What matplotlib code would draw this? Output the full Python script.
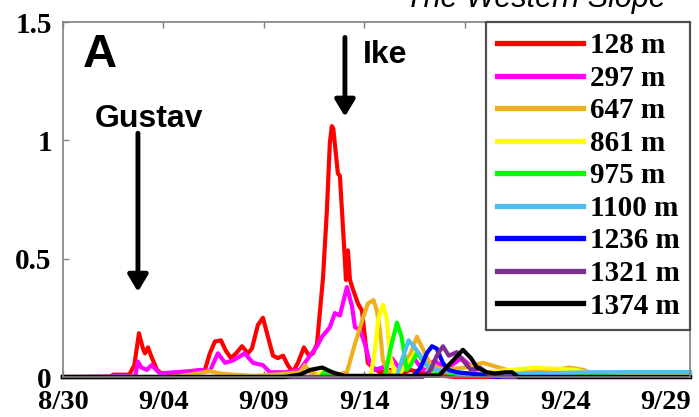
import matplotlib
matplotlib.use("Agg")
import matplotlib.pyplot as plt

# days since 8/30 and concentrations for each depth
red_t = [0, 2.3, 2.5, 3.3, 3.55, 3.78, 3.98, 4.08, 4.23, 4.43, 4.68, 4.98, 5.6, 6.1, 6.4, 6.7,
         7.06, 7.31, 7.56, 7.86, 8.11, 8.36, 8.61, 8.91, 9.2, 9.4, 9.7, 9.95, 10.2, 10.45, 10.7,
         10.95, 11.19, 11.44, 11.69, 11.99, 12.24, 12.44, 12.64, 12.94, 13.13, 13.28, 13.38,
         13.45, 13.68, 13.78, 14.03, 14.08, 14.18, 14.28, 14.43, 14.68, 14.88, 15.02, 15.17,
         15.42, 15.77, 16.27, 16.77, 17.26, 17.76, 18.26, 19.5, 31.2]
red_v = [0, 0, 0.01, 0.01, 0.05, 0.185, 0.12, 0.10, 0.125, 0.08, 0.03, 0.01, 0.005, 0.02, 0.02, 0.01,
         0.03, 0.10, 0.15, 0.155, 0.11, 0.08, 0.10, 0.13, 0.10, 0.12, 0.22, 0.25, 0.17, 0.09, 0.08,
         0.09, 0.05, 0.02, 0.06, 0.125, 0.09, 0.10, 0.14, 0.42, 0.70, 0.99, 1.06,
         1.05, 0.86, 0.85, 0.49, 0.41, 0.535, 0.41, 0.37, 0.31, 0.28, 0.17, 0.06,
         0.04, 0.02, 0.03, 0.01, 0.03, 0.02, 0.01, 0.0, 0.0]

mag_t = [0, 3.6, 3.73, 3.9, 4.18, 4.4, 4.83, 5.57, 6.32, 6.82, 7.31, 7.71, 8.06, 8.46, 9.05, 9.45,
         9.95, 10.3, 11.04, 11.79, 12.29, 12.64, 12.89, 13.28, 13.53, 13.78, 14.13, 14.38, 14.53,
         14.78, 15.02, 15.27, 15.52, 15.9, 16.37, 16.8, 17.41, 17.9, 18.51, 19.0, 19.85, 20.5,
         21.0, 22.0, 31.2]
mag_v = [0, 0.005, 0.065, 0.04, 0.03, 0.05, 0.015, 0.02, 0.025, 0.03, 0.025, 0.10, 0.06, 0.07, 0.10, 0.06,
         0.05, 0.02, 0.02, 0.03, 0.09, 0.13, 0.17, 0.21, 0.27, 0.26, 0.38, 0.30, 0.21,
         0.20, 0.14, 0.06, 0.03, 0.04, 0.08, 0.03, 0.085, 0.03, 0.07, 0.03, 0.08, 0.03,
         0.01, 0.005, 0.005]

orange_t = [0, 5.5, 6.3, 7.06, 7.3, 7.8, 8.5, 9.5, 10.5, 11.8, 12.04, 12.3, 12.8, 13.5, 14.13,
            14.53, 14.93, 15.17, 15.45, 15.62, 15.77, 15.92, 16.2, 16.8, 17.3, 17.61, 17.9, 18.3,
            19.0, 20.0, 20.9, 21.7, 22.5, 23.5, 24.5, 25.2, 25.9, 26.5, 31.2]
orange_v = [0, 0, 0.01, 0.02, 0.025, 0.015, 0.01, 0.005, 0.01, 0.02, 0.05, 0.02, 0.01, 0.005, 0.02,
            0.14, 0.25, 0.31, 0.325, 0.28, 0.2, 0.07, 0.02, 0.03, 0.10, 0.17, 0.12, 0.05,
            0.03, 0.04, 0.06, 0.04, 0.02, 0.025, 0.03, 0.04, 0.03, 0.01, 0.005]

yellow_t = [0, 12.5, 12.9, 13.3, 15.3, 15.5, 15.7, 15.92, 16.1, 16.3, 16.5, 16.8, 17.2, 17.6,
            18.0, 18.5, 19.5, 20.3, 21.0, 22.3, 23.5, 24.5, 25.5, 26.5, 31.2]
yellow_v = [0, 0, 0.02, 0.0, 0.0, 0.10, 0.25, 0.305, 0.25, 0.08, 0.02, 0.02, 0.06, 0.11,
            0.05, 0.03, 0.02, 0.01, 0.02, 0.03, 0.04, 0.035, 0.03, 0.01, 0.005]

green_t = [0, 12.8, 13.0, 13.3, 16.0, 16.3, 16.62, 16.85, 17.1, 17.3, 17.6, 17.9, 18.3, 19.0,
           20.0, 22.0, 24.0, 26.0, 28.0, 31.2]
green_v = [0, 0, 0.02, 0, 0, 0.12, 0.23, 0.17, 0.03, 0.05, 0.10, 0.07, 0.03, 0.02,
           0.01, 0.01, 0.015, 0.015, 0.02, 0.02]

lblue_t = [0, 16.6, 16.9, 17.2, 17.45, 17.8, 18.1, 18.6, 19.5, 20.5, 22.0, 24.0, 26.0, 28.0, 31.2]
lblue_v = [0, 0, 0.08, 0.155, 0.13, 0.09, 0.05, 0.03, 0.02, 0.01, 0.01, 0.015, 0.02, 0.02, 0.02]

blue_t = [0, 17.4, 17.8, 18.1, 18.36, 18.6, 18.9, 19.2, 19.6, 20.2, 20.8, 21.5, 31.2]
blue_v = [0, 0, 0.04, 0.10, 0.13, 0.12, 0.06, 0.03, 0.02, 0.015, 0.01, 0.0, 0.0]

purple_t = [0, 17.9, 18.3, 18.6, 18.91, 19.2, 19.6, 19.9, 20.3, 20.75, 21.2, 22.0, 31.2]
purple_v = [0, 0, 0.03, 0.09, 0.13, 0.09, 0.105, 0.07, 0.03, 0.04, 0.01, 0.0, 0.0]

black_t = [0, 11.0, 11.8, 12.3, 12.9, 13.4, 14.0, 18.7, 19.9, 20.3, 20.6, 21.1, 21.5, 22.0,
           22.35, 22.65, 31.2]
black_v = [0, 0, 0.01, 0.03, 0.04, 0.02, 0.005, 0.005, 0.115, 0.08, 0.04, 0.02, 0.015, 0.02,
           0.02, 0.0, 0.0]

depths = ['128 m', '297 m', '647 m', '861 m', '975 m', '1100 m', '1236 m', '1321 m', '1374 m']
colors = ['#ff0000', '#ff00ff', '#edb120', '#ffff00', '#00ff00', '#4dbeee', '#0000ff', '#7e2f8e', '#000000']
series = [(red_t, red_v), (mag_t, mag_v), (orange_t, orange_v), (yellow_t, yellow_v),
          (green_t, green_v), (lblue_t, lblue_v), (blue_t, blue_v), (purple_t, purple_v),
          (black_t, black_v)]

tick_days = [0, 5, 10, 15, 20, 25, 30]
tick_labels = ['8/30', '9/04', '9/09', '9/14', '9/19', '9/24', '9/29']

plt.rcParams['font.family'] = 'Liberation Serif'

fig = plt.figure(figsize=(6.99, 4.17), dpi=100)
ax = fig.add_axes([0.0901, 0.0959, 0.8970, 0.8513])

for (t, v), c, lab in zip(series, colors, depths):
    ax.plot(t, v, color=c, lw=3, label=lab, clip_on=False, solid_joinstyle='round')

ax.set_xlim(0, 31.2)
ax.set_ylim(0, 1.5)
ax.set_xticks(tick_days)
ax.set_xticklabels(tick_labels)
ax.set_yticks([0, 0.5, 1, 1.5])
ax.set_yticklabels(['0', '0.5', '1', '1.5'])
ax.tick_params(direction='in', length=4, width=1, color='#808080', top=True, labelsize=21)
ax.tick_params(axis='x', pad=9, labelsize=20.5)
ax.tick_params(axis='y', pad=8)
for lbl in ax.get_xticklabels() + ax.get_yticklabels():
    lbl.set_fontweight('bold')
for s in ax.spines.values():
    s.set_color('#808080')
    s.set_linewidth(1.2)

leg = ax.legend(loc='upper right', bbox_to_anchor=(1, 1), borderaxespad=0, fancybox=False,
                prop={'weight': 'bold', 'size': 21}, handlelength=2.95, handletextpad=0.25,
                labelspacing=0.19, borderpad=0.35, framealpha=1)
leg.get_frame().set_edgecolor('#505050')
leg.get_frame().set_linewidth(1.6)
for h in leg.get_lines():
    h.set_linewidth(3.8)

# storm markers
arrow = dict(arrowstyle='-|>,head_length=0.5,head_width=0.3', lw=3.5, color='k',
             shrinkA=0, shrinkB=0, mutation_scale=20)
ax.annotate('', xy=(3.73, 0.36), xytext=(3.73, 1.03), arrowprops=arrow, annotation_clip=False)
ax.annotate('', xy=(14.03, 1.10), xytext=(14.03, 1.435), arrowprops=arrow, annotation_clip=False)
ax.text(1.59, 1.055, 'Gustav', family='Liberation Sans', weight='bold', size=23, va='baseline')
ax.text(14.93, 1.325, 'Ike', family='Liberation Sans', weight='bold', size=23, va='baseline')
ax.text(1.0, 1.308, 'A', family='Liberation Sans', weight='bold', size=34, va='baseline')

fig.text(535 / 699, 1 - 6.5 / 417, 'The Western Slope', family='Liberation Sans', style='italic',
         size=22, ha='center', va='baseline')

fig.savefig('out.png', dpi=100)
